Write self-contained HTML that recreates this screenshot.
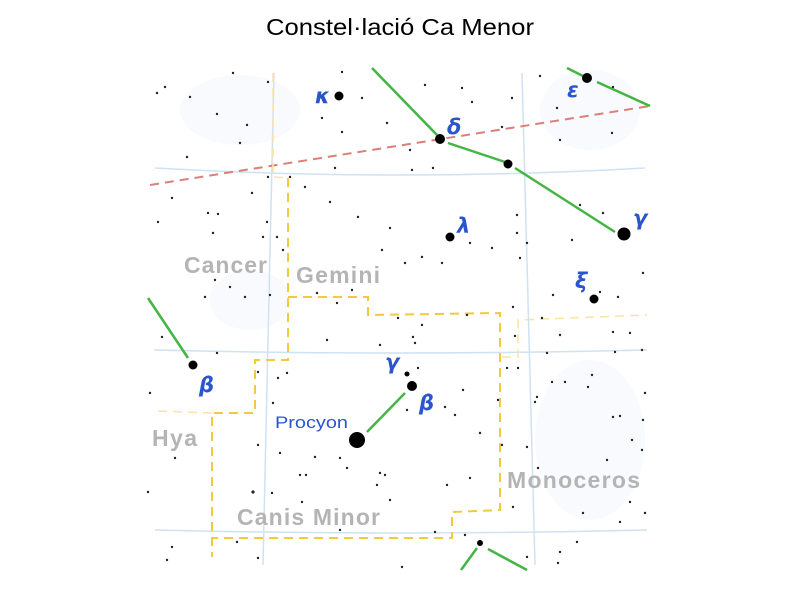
<!DOCTYPE html>
<html><head><meta charset="utf-8"><style>
html,body{margin:0;padding:0;background:#fff;}
svg{display:block;}
</style></head><body>
<svg width="800" height="600" viewBox="0 0 800 600" xmlns="http://www.w3.org/2000/svg">
<rect width="800" height="600" fill="#fff"/>
<text x="400" y="35" text-anchor="middle" font-family="Liberation Sans, sans-serif" font-size="23" fill="#000" textLength="268" lengthAdjust="spacingAndGlyphs">Constel·lació Ca Menor</text>
<!-- faint patches -->
<g fill="#f3f6fc" opacity="0.6">
<ellipse cx="240" cy="110" rx="60" ry="35"/>
<ellipse cx="590" cy="110" rx="50" ry="40"/>
<ellipse cx="590" cy="440" rx="55" ry="80"/>
<ellipse cx="250" cy="300" rx="40" ry="30"/>
</g>
<!-- grid -->
<g stroke="#cfe2f3" stroke-width="1.5" fill="none">
<path d="M155 168 Q400 182 645 168"/>
<path d="M154 350 Q400 356 647 350"/>
<path d="M155 530 Q400 536 647 530"/>
<path d="M274 73 L263 565"/>
<path d="M522 73 L535 565"/>
</g>
<!-- ecliptic -->
<path d="M150 185 L650 106" stroke="#d98078" stroke-width="2" stroke-dasharray="9,6" fill="none"/>
<!-- boundaries -->
<g stroke="#f5c842" stroke-width="2" stroke-dasharray="9,6" fill="none">
<path d="M288 297 L368 297 L368 315 L500 313 L500 510 L452 512 L452 538 L212 538"/>
<path d="M288 178 L288 360 L255 360 L255 413 L212 413 L212 557"/>
</g>
<g stroke="#fbe3a0" stroke-width="1.5" stroke-dasharray="9,6" fill="none">
<path d="M273 73 L273 177 L288 178"/>
<path d="M158 411 L212 413"/>
<path d="M502 357 L518 357 L518 320 L647 315"/>
</g>
<!-- constellation lines -->
<g stroke="#44b544" stroke-width="2.5" fill="none">
<path d="M372 68 L437 135"/>
<path d="M448 143 L505 162"/>
<path d="M515 168 L615 232"/>
<path d="M567 68 L583 76"/>
<path d="M597 82 L650 106"/>
<path d="M148 298 L188 358"/>
<path d="M367 432 L405 393"/>
<path d="M461 570 L477 548"/>
<path d="M488 549 L527 570"/>
</g>
<!-- main stars -->
<g fill="#000">
<circle cx="339" cy="96" r="4.5"/>
<circle cx="440" cy="139" r="5"/>
<circle cx="508" cy="164" r="4.5"/>
<circle cx="587" cy="78" r="5"/>
<circle cx="624" cy="234" r="6.5"/>
<circle cx="450" cy="237" r="4.5"/>
<circle cx="594" cy="299" r="4.5"/>
<circle cx="193" cy="365" r="4.5"/>
<circle cx="407" cy="374" r="2.5"/>
<circle cx="412" cy="386" r="5"/>
<circle cx="357" cy="440" r="8"/>
<circle cx="480" cy="543" r="3"/>
</g>
<!-- small stars -->
<g fill="#222">
<circle cx="233" cy="73" r="1.2"/><circle cx="165" cy="87" r="1.2"/><circle cx="157" cy="93" r="1.2"/><circle cx="190" cy="97" r="1.2"/><circle cx="268" cy="82" r="1.2"/><circle cx="342" cy="72" r="1.2"/><circle cx="362" cy="98" r="1.2"/><circle cx="217" cy="114" r="1.2"/><circle cx="247" cy="125" r="1.2"/><circle cx="322" cy="118" r="1.2"/><circle cx="387" cy="123" r="1.2"/><circle cx="425" cy="85" r="1.2"/><circle cx="462" cy="88" r="1.2"/><circle cx="472" cy="102" r="1.2"/><circle cx="512" cy="98" r="1.2"/><circle cx="540" cy="76" r="1.2"/><circle cx="557" cy="108" r="1.2"/><circle cx="613" cy="87" r="1.2"/><circle cx="612" cy="133" r="1.2"/><circle cx="560" cy="140" r="1.2"/><circle cx="502" cy="127" r="1.2"/><circle cx="187" cy="157" r="1.2"/><circle cx="240" cy="143" r="1.2"/><circle cx="342" cy="132" r="1.2"/><circle cx="410" cy="150" r="1.2"/><circle cx="433" cy="168" r="1.2"/><circle cx="412" cy="170" r="1.2"/><circle cx="335" cy="168" r="1.2"/><circle cx="290" cy="177" r="1.2"/><circle cx="268" cy="177" r="1.2"/><circle cx="305" cy="187" r="1.2"/><circle cx="172" cy="198" r="1.2"/><circle cx="252" cy="193" r="1.2"/><circle cx="330" cy="202" r="1.2"/><circle cx="208" cy="213" r="1.2"/><circle cx="218" cy="214" r="1.2"/><circle cx="267" cy="222" r="1.2"/><circle cx="158" cy="222" r="1.2"/><circle cx="213" cy="233" r="1.2"/><circle cx="263" cy="237" r="1.2"/><circle cx="277" cy="237" r="1.2"/><circle cx="358" cy="217" r="1.2"/><circle cx="390" cy="228" r="1.2"/><circle cx="517" cy="215" r="1.2"/><circle cx="517" cy="233" r="1.2"/><circle cx="580" cy="205" r="1.2"/><circle cx="603" cy="213" r="1.2"/><circle cx="572" cy="240" r="1.2"/><circle cx="527" cy="243" r="1.2"/><circle cx="470" cy="243" r="1.2"/><circle cx="492" cy="248" r="1.2"/><circle cx="520" cy="258" r="1.2"/><circle cx="422" cy="257" r="1.2"/><circle cx="442" cy="263" r="1.2"/><circle cx="405" cy="263" r="1.2"/><circle cx="382" cy="250" r="1.2"/><circle cx="643" cy="273" r="1.2"/><circle cx="283" cy="250" r="1.2"/><circle cx="215" cy="280" r="1.2"/><circle cx="230" cy="287" r="1.2"/><circle cx="205" cy="297" r="1.2"/><circle cx="245" cy="297" r="1.2"/><circle cx="270" cy="295" r="1.2"/><circle cx="347" cy="280" r="1.2"/><circle cx="352" cy="290" r="1.2"/><circle cx="317" cy="293" r="1.2"/><circle cx="337" cy="303" r="1.2"/><circle cx="553" cy="295" r="1.2"/><circle cx="600" cy="292" r="1.2"/><circle cx="618" cy="297" r="1.2"/><circle cx="513" cy="307" r="1.2"/><circle cx="398" cy="318" r="1.2"/><circle cx="422" cy="325" r="1.2"/><circle cx="467" cy="315" r="1.2"/><circle cx="542" cy="318" r="1.2"/><circle cx="162" cy="337" r="1.2"/><circle cx="327" cy="340" r="1.2"/><circle cx="380" cy="345" r="1.2"/><circle cx="413" cy="337" r="1.2"/><circle cx="415" cy="343" r="1.2"/><circle cx="515" cy="336" r="1.2"/><circle cx="560" cy="335" r="1.2"/><circle cx="613" cy="332" r="1.2"/><circle cx="630" cy="333" r="1.2"/><circle cx="217" cy="353" r="1.2"/><circle cx="547" cy="353" r="1.2"/><circle cx="615" cy="352" r="1.2"/><circle cx="642" cy="350" r="1.2"/><circle cx="287" cy="373" r="1.2"/><circle cx="278" cy="378" r="1.2"/><circle cx="258" cy="372" r="1.2"/><circle cx="418" cy="368" r="1.2"/><circle cx="507" cy="368" r="1.2"/><circle cx="518" cy="368" r="1.2"/><circle cx="592" cy="375" r="1.2"/><circle cx="552" cy="382" r="1.2"/><circle cx="565" cy="382" r="1.2"/><circle cx="588" cy="387" r="1.2"/><circle cx="150" cy="393" r="1.2"/><circle cx="463" cy="390" r="1.2"/><circle cx="645" cy="393" r="1.2"/><circle cx="537" cy="397" r="1.2"/><circle cx="535" cy="402" r="1.2"/><circle cx="273" cy="403" r="1.2"/><circle cx="407" cy="410" r="1.2"/><circle cx="445" cy="407" r="1.2"/><circle cx="455" cy="415" r="1.2"/><circle cx="498" cy="400" r="1.2"/><circle cx="613" cy="417" r="1.2"/><circle cx="620" cy="416" r="1.2"/><circle cx="643" cy="420" r="1.2"/><circle cx="480" cy="433" r="1.2"/><circle cx="502" cy="445" r="1.2"/><circle cx="527" cy="447" r="1.2"/><circle cx="632" cy="440" r="1.2"/><circle cx="642" cy="450" r="1.2"/><circle cx="258" cy="445" r="1.2"/><circle cx="280" cy="453" r="1.2"/><circle cx="315" cy="457" r="1.2"/><circle cx="175" cy="458" r="1.2"/><circle cx="340" cy="458" r="1.2"/><circle cx="607" cy="460" r="1.2"/><circle cx="347" cy="468" r="1.2"/><circle cx="538" cy="468" r="1.2"/><circle cx="300" cy="475" r="1.2"/><circle cx="306" cy="475" r="1.2"/><circle cx="380" cy="473" r="1.2"/><circle cx="385" cy="475" r="1.2"/><circle cx="470" cy="478" r="1.2"/><circle cx="377" cy="485" r="1.2"/><circle cx="447" cy="485" r="1.2"/><circle cx="253" cy="492" r="1.6"/><circle cx="272" cy="493" r="1.2"/><circle cx="148" cy="492" r="1.2"/><circle cx="390" cy="500" r="1.2"/><circle cx="513" cy="507" r="1.2"/><circle cx="302" cy="502" r="1.2"/><circle cx="583" cy="513" r="1.2"/><circle cx="630" cy="502" r="1.2"/><circle cx="645" cy="513" r="1.2"/><circle cx="620" cy="522" r="1.2"/><circle cx="340" cy="530" r="1.2"/><circle cx="435" cy="532" r="1.2"/><circle cx="465" cy="535" r="1.2"/><circle cx="237" cy="542" r="1.2"/><circle cx="172" cy="547" r="1.2"/><circle cx="577" cy="542" r="1.2"/><circle cx="560" cy="552" r="1.2"/><circle cx="167" cy="560" r="1.2"/><circle cx="258" cy="558" r="1.2"/><circle cx="527" cy="557" r="1.2"/><circle cx="558" cy="563" r="1.2"/><circle cx="402" cy="567" r="1.2"/>
</g>
<!-- constellation labels -->
<g font-family="Liberation Sans, sans-serif" font-weight="bold" font-size="23" fill="#b4b4b4" lengthAdjust="spacingAndGlyphs">
<text x="184" y="273" textLength="83">Cancer</text>
<text x="296" y="283" textLength="84">Gemini</text>
<text x="152" y="446" textLength="45">Hya</text>
<text x="237" y="525" textLength="143">Canis Minor</text>
<text x="507" y="488" textLength="133">Monoceros</text>
</g>
<!-- greek labels -->
<g font-family="DejaVu Sans, sans-serif" font-style="italic" font-weight="bold" font-size="21" fill="#2a55cc">
<text x="315" y="103">κ</text>
<text x="447" y="134">δ</text>
<text x="567" y="97">ε</text>
<text x="633" y="225">γ</text>
<text x="457" y="233">λ</text>
<text x="575" y="288">ξ</text>
<text x="199" y="392">β</text>
<text x="385" y="369">γ</text>
<text x="419" y="410">β</text>
</g>
<text x="275" y="428" font-family="Liberation Sans, sans-serif" font-size="17" fill="#2a55cc" textLength="73" lengthAdjust="spacingAndGlyphs">Procyon</text>
</svg>
</body></html>
